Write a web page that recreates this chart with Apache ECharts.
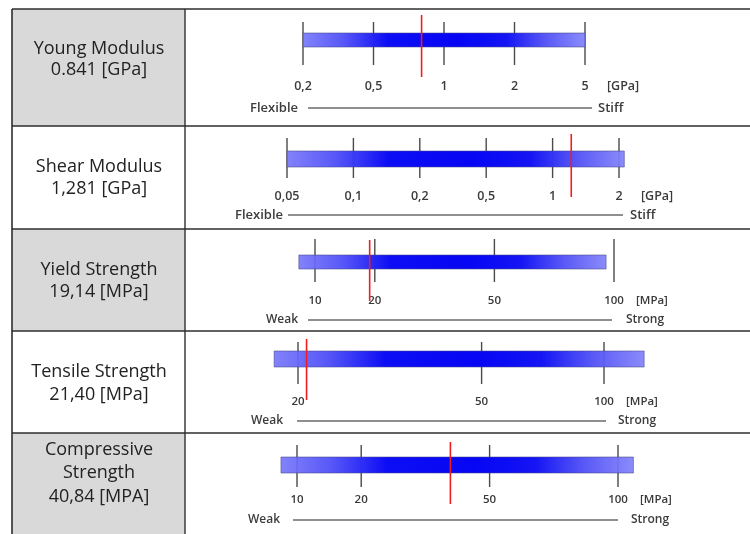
<!DOCTYPE html>
<html>
<head>
<meta charset="utf-8">
<script src="https://cdn.jsdelivr.net/npm/echarts@6/dist/echarts.min.js"></script>
<style>
  html, body { margin: 0; padding: 0; background: #fff; }
  #chart { width: 750px; height: 534px; }
</style>
</head>
<body>
<div id="chart"></div>
<script>
// ---- Material property data ----
const propertyNames = [
  ['Young Modulus'],
  ['Shear Modulus'],
  ['Yield Strength'],
  ['Tensile Strength'],
  ['Compressive', 'Strength']
];
const valueTexts = ['0.841 [GPa]', '1,281 [GPa]', '19,14 [MPa]', '21,40 [MPa]', '40,84 [MPA]'];
const measured = [0.841, 1.281, 19.14, 21.40, 40.84];
const rangeLow = [0.2, 0.05, 7.3, 16.1, 7.5];
const rangeHigh = [5, 2.08, 96.7, 116.4, 106];

// ---- Scale definitions (tick values and their spacing in scale steps) ----
const tickValues = [
  [0.2, 0.5, 1, 2, 5],
  [0.05, 0.1, 0.2, 0.5, 1, 2],
  [10, 20, 50, 100],
  [20, 50, 100],
  [10, 20, 50, 100]
];
const tickLabels = [
  ['0,2', '0,5', '1', '2', '5'],
  ['0,05', '0,1', '0,2', '0,5', '1', '2'],
  ['10', '20', '50', '100'],
  ['20', '50', '100'],
  ['10', '20', '50', '100']
];
const tickSteps = [
  [0, 1, 2, 3, 4],
  [0, 1, 2, 3, 4, 5],
  [0, 1, 3, 5],
  [0, 3, 5],
  [0, 1, 3, 5]
];
const unitLabels = ['[GPa]', '[GPa]', '[MPa]', '[MPa]', '[MPa]'];
const lowWords = ['Flexible', 'Flexible', 'Weak', 'Weak', 'Weak'];
const highWords = ['Stiff', 'Stiff', 'Strong', 'Strong', 'Strong'];

// ---- Layout of each table row (pixels) ----
const rowLayout = [
  { top: 9,   bottom: 126, tickTop: 22,  tickBottom: 65,  x0: 303, x1: 585, barTop: 33,  barBottom: 47,
    markTop: 15,  markBottom: 77,  labelY: 86,  labelFont: 12.5, wordY: 108, lineX0: 308, lineX1: 592,
    leftWordEnd: 298, rightWordStart: 598, wordFont: 13, nameY: [49], valueY: 70 },
  { top: 126, bottom: 229, tickTop: 138, tickBottom: 178, x0: 287, x1: 619, barTop: 151, barBottom: 167,
    markTop: 134, markBottom: 197, labelY: 196, labelFont: 12.5, wordY: 215, lineX0: 288, lineX1: 623,
    leftWordEnd: 283, rightWordStart: 630, wordFont: 13, nameY: [166.5], valueY: 188.5 },
  { top: 229, bottom: 331, tickTop: 239, tickBottom: 282, x0: 315, x1: 614, barTop: 255, barBottom: 269,
    markTop: 240, markBottom: 301, labelY: 300.5, labelFont: 11.5, wordY: 320, lineX0: 308, lineX1: 612,
    leftWordEnd: 298, rightWordStart: 626, wordFont: 12, nameY: [269.5], valueY: 292 },
  { top: 331, bottom: 433, tickTop: 342, tickBottom: 384, x0: 298, x1: 604, barTop: 351, barBottom: 367,
    markTop: 339, markBottom: 400, labelY: 402, labelFont: 11.5, wordY: 421, lineX0: 297, lineX1: 606,
    leftWordEnd: 283, rightWordStart: 618, wordFont: 12, nameY: [371.5], valueY: 394.5 },
  { top: 433, bottom: 560, tickTop: 445, tickBottom: 487, x0: 297, x1: 618, barTop: 457, barBottom: 473,
    markTop: 442, markBottom: 504, labelY: 500, labelFont: 11.5, wordY: 520, lineX0: 293, lineX1: 618,
    leftWordEnd: 280, rightWordStart: 631, wordFont: 12, nameY: [449.5, 473], valueY: 496.5 }
];

const TABLE_LEFT = 12;
const TABLE_TOP = 9;
const COL_SPLIT = 185;
const NAME_CX = 99;
const CELL_GRAY = '#d9d9d9';
const BORDER = '#2e2e2e';
const TEXT_FONT = '"Open Sans", "DejaVu Sans", sans-serif';

// Piecewise scale: value -> position in scale steps, extrapolating the end segments
function toStep(row, v) {
  const t = tickValues[row], s = tickSteps[row];
  let i = 0;
  if (v >= t[t.length - 1]) {
    i = t.length - 2;
  } else if (v > t[0]) {
    while (i < t.length - 2 && v > t[i + 1]) i++;
  }
  return s[i] + (v - t[i]) / (t[i + 1] - t[i]) * (s[i + 1] - s[i]);
}

const grids = [], xAxes = [], yAxes = [], series = [], graphics = [];

rowLayout.forEach(function (L, r) {
  const steps = tickSteps[r];
  grids.push({ left: L.x0, width: L.x1 - L.x0, top: L.tickTop, height: L.tickBottom - L.tickTop, containLabel: false });
  xAxes.push({ type: 'value', gridIndex: r, min: 0, max: steps[steps.length - 1], show: false });
  yAxes.push({ type: 'value', gridIndex: r, min: 0, max: 1, show: false });

  // Scale ticks with their labels and the unit
  series.push({
    type: 'custom', xAxisIndex: r, yAxisIndex: r, z: 1, silent: true,
    data: tickValues[r].map(function (v) { return [v]; }),
    renderItem: function (params, api) {
      const v = api.value(0);
      const top = api.coord([toStep(r, v), 1]);
      const bot = api.coord([toStep(r, v), 0]);
      const font = '600 ' + L.labelFont + 'px ' + TEXT_FONT;
      const children = [
        { type: 'line', shape: { x1: top[0], y1: top[1], x2: bot[0], y2: bot[1] },
          style: { stroke: '#4a4a4a', lineWidth: 1.4 } },
        { type: 'text', x: top[0], y: L.labelY,
          style: { text: tickLabels[r][params.dataIndex], fill: '#3a3a3a',
                   font: font, align: 'center', verticalAlign: 'middle' } }
      ];
      if (params.dataIndex === tickValues[r].length - 1) {
        children.push({ type: 'text', x: top[0] + 22, y: L.labelY,
          style: { text: unitLabels[r], fill: '#3a3a3a', font: font,
                   align: 'left', verticalAlign: 'middle' } });
      }
      return { type: 'group', children: children };
    }
  });

  // Property range bar
  series.push({
    type: 'custom', xAxisIndex: r, yAxisIndex: r, z: 2, silent: true,
    data: [[rangeLow[r], rangeHigh[r]]],
    renderItem: function (params, api) {
      const a = api.coord([toStep(r, api.value(0)), 0]);
      const b = api.coord([toStep(r, api.value(1)), 0]);
      return {
        type: 'rect',
        shape: { x: a[0], y: L.barTop, width: b[0] - a[0], height: L.barBottom - L.barTop },
        style: {
          fill: new echarts.graphic.LinearGradient(0, 0, 1, 0, [
            { offset: 0, color: 'rgba(120,120,250,0.92)' },
            { offset: 0.14, color: 'rgba(80,80,248,0.95)' },
            { offset: 0.3, color: '#0d0df5' },
            { offset: 0.55, color: '#0606f4' },
            { offset: 0.72, color: '#1414f4' },
            { offset: 0.86, color: 'rgba(80,80,246,0.95)' },
            { offset: 1, color: 'rgba(130,130,250,0.92)' }
          ]),
          stroke: 'rgba(70,70,140,0.55)', lineWidth: 1
        }
      };
    }
  });

  // Measured value marker
  series.push({
    type: 'custom', xAxisIndex: r, yAxisIndex: r, z: 3, silent: true,
    data: [[measured[r]]],
    renderItem: function (params, api) {
      const p = api.coord([toStep(r, api.value(0)), 0]);
      return { type: 'line', shape: { x1: p[0], y1: L.markTop, x2: p[0], y2: L.markBottom },
               style: { stroke: '#f21c1c', lineWidth: 1.6 } };
    }
  });

  // Left column cell
  if (r % 2 === 0) {
    graphics.push({ type: 'rect', z: 0, shape: { x: TABLE_LEFT, y: L.top, width: COL_SPLIT - TABLE_LEFT, height: L.bottom - L.top },
                    style: { fill: CELL_GRAY } });
  }
  propertyNames[r].forEach(function (line, k) {
    graphics.push({ type: 'text', z: 5, x: NAME_CX, y: L.nameY[k],
      style: { text: line, fill: '#222222', font: '18px ' + TEXT_FONT, align: 'center', verticalAlign: 'middle' } });
  });
  graphics.push({ type: 'text', z: 5, x: NAME_CX, y: L.valueY,
    style: { text: valueTexts[r], fill: '#222222', font: '18px ' + TEXT_FONT, align: 'center', verticalAlign: 'middle' } });

  // Low / high descriptor line
  graphics.push({ type: 'line', z: 5, shape: { x1: L.lineX0, y1: L.wordY, x2: L.lineX1, y2: L.wordY },
                  style: { stroke: '#6a6a6a', lineWidth: 1.4 } });
  graphics.push({ type: 'text', z: 5, x: L.leftWordEnd, y: L.wordY,
    style: { text: lowWords[r], fill: '#3c3c3c', font: '600 ' + L.wordFont + 'px ' + TEXT_FONT, align: 'right', verticalAlign: 'middle' } });
  graphics.push({ type: 'text', z: 5, x: L.rightWordStart, y: L.wordY,
    style: { text: highWords[r], fill: '#3c3c3c', font: '600 ' + L.wordFont + 'px ' + TEXT_FONT, align: 'left', verticalAlign: 'middle' } });

  // Row separator
  graphics.push({ type: 'line', z: 6, shape: { x1: TABLE_LEFT, y1: L.top, x2: 750, y2: L.top },
                  style: { stroke: BORDER, lineWidth: 1.6 } });
});

// Table frame
graphics.push({ type: 'line', z: 6, shape: { x1: TABLE_LEFT, y1: TABLE_TOP, x2: TABLE_LEFT, y2: 534 },
                style: { stroke: BORDER, lineWidth: 1.6 } });
graphics.push({ type: 'line', z: 6, shape: { x1: COL_SPLIT, y1: TABLE_TOP, x2: COL_SPLIT, y2: 534 },
                style: { stroke: BORDER, lineWidth: 1.4 } });

const chart = echarts.init(document.getElementById('chart'), null, { renderer: 'canvas' });
chart.setOption({
  animation: false,
  backgroundColor: '#ffffff',
  grid: grids,
  xAxis: xAxes,
  yAxis: yAxes,
  series: series,
  graphic: graphics
});
</script>
</body>
</html>
